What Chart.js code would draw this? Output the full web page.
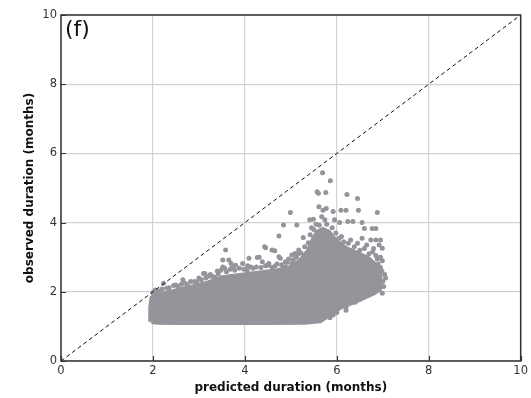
<!DOCTYPE html>
<html>
<head>
<meta charset="utf-8">
<script src="https://cdn.jsdelivr.net/npm/chart.js@4"></script>
<style>
html,body{margin:0;padding:0;background:#fff;}
#wrap{width:531px;height:398px;position:relative;}
</style>
</head>
<body>
<div id="wrap"><canvas id="c"></canvas></div>
<script>
// ---- data ----
const xTicks = [0, 2, 4, 6, 8, 10];
const yTicks = [0, 2, 4, 6, 8, 10];
const diagonal = [[0, 0], [10, 10]];

// outline of the solid, overlapping mass of points
const denseCore = [
  [1.93,1.15],[1.92,1.55],[1.95,1.85],[2.05,1.95],[2.3,2.0],[2.6,2.1],[2.9,2.2],
  [3.2,2.3],[3.5,2.45],[3.8,2.5],[4.1,2.55],[4.4,2.6],[4.7,2.65],[5.0,2.75],
  [5.2,2.95],[5.35,3.2],[5.45,3.5],[5.55,3.75],[5.7,3.85],[5.85,3.75],[6.0,3.5],
  [6.2,3.3],[6.45,3.15],[6.7,3.0],[6.9,2.75],[6.97,2.45],[6.97,2.1],[6.85,1.95],
  [6.6,1.8],[6.35,1.65],[6.1,1.52],[5.95,1.4],[5.8,1.25],[5.65,1.12],[5.3,1.08],
  [4.5,1.07],[3.5,1.07],[2.5,1.07],[2.1,1.08],[1.97,1.1]
];

// individual points around the edges of the cloud
const highPoints = [
  [5.69,5.44],[5.86,5.21],[5.57,4.89],[5.60,4.85],[5.76,4.87],[6.22,4.81],[6.45,4.70],
  [4.99,4.29],[5.61,4.46],[5.70,4.36],[5.77,4.41],[5.92,4.32],[6.09,4.36],[6.20,4.36],
  [6.47,4.36],[6.88,4.29],[5.13,3.93],[4.84,3.93],[5.41,4.08],[5.49,4.10],[5.67,4.17],
  [5.74,4.08],[5.95,4.08],[6.06,4.00],[6.24,4.03],[6.35,4.03],[6.55,4.00],[5.27,3.57],
  [4.74,3.61],[6.60,3.83],[6.77,3.83],[6.85,3.83],[6.74,3.50],[6.85,3.50],[6.95,3.50],
  [6.92,3.35],[6.99,3.26],[5.45,3.85],[5.55,3.95],[5.60,3.70],[5.50,3.55]
];
const rightPoints = [
  [6.99,1.96],[6.77,2.00],[7.06,2.40],[7.04,2.50],[6.95,3.00],[6.99,2.90],[6.85,2.63],
  [6.95,2.57],[6.05,3.55],[6.15,3.45],[6.30,3.50],[6.45,3.40],[6.55,3.55],[6.65,3.35],
  [6.80,3.25],[6.50,3.20],[6.70,3.10],[6.85,3.05],[6.90,2.80],[6.75,2.85],[6.95,2.70],
  [7.00,2.30],[7.02,2.15],[6.92,2.05],[6.60,1.85],[6.40,1.70],[6.20,1.55],[6.00,1.40],
  [5.92,1.33],[5.85,1.25],[6.20,1.47],[6.50,1.78]
];
const upperEdgePoints = [
  [3.58,3.21],[3.65,2.92],[3.70,2.82],[3.52,2.72],[3.56,2.68],[3.13,2.53],[3.30,2.44],
  [2.23,2.25],[4.45,3.27],[4.59,3.21],[4.65,3.19],[4.43,3.30],[4.09,2.97],[4.27,2.99],
  [3.95,2.82],[4.13,2.72],[4.38,2.87],[4.52,2.77],[4.66,2.75],[4.77,2.97],[4.95,2.95],
  [5.09,3.11],[5.17,3.21],[4.88,2.72],[5.02,2.82],[4.31,3.00],[4.74,3.01],[4.88,2.87],
  [5.02,3.06],[5.15,3.09],[4.52,2.82],[3.80,2.77],[3.73,2.72],[3.52,2.92],[3.10,2.53],
  [2.05,2.05],[4.06,2.75],[2.30,2.10],[2.50,2.20],[2.70,2.25],[2.90,2.30],[2.65,2.35],
  [3.00,2.40],[3.25,2.50],[3.40,2.60]
];
const raggedTopPoints = [
  [2.00,1.98],[2.12,2.02],[2.20,2.08],[2.35,2.12],[2.45,2.18],[2.55,2.15],[2.62,2.22],
  [2.75,2.20],[2.82,2.30],[2.95,2.28],[3.05,2.35],[3.15,2.40],[3.22,2.45],[3.35,2.42],
  [3.42,2.52],[3.48,2.62],[3.60,2.58],[3.68,2.65],[3.78,2.62],[3.88,2.68],[3.98,2.65],
  [4.05,2.62],[4.18,2.68],[4.25,2.72],[4.35,2.70],[4.45,2.75],[4.60,2.70],[4.70,2.80],
  [4.80,2.78],[4.92,2.85],[5.05,2.92],[5.12,3.00],[5.22,3.12],[5.30,3.30],[5.38,3.42],
  [5.42,3.65],[5.50,3.80],[5.62,3.92],[5.78,3.95],[5.90,3.85],[5.98,3.70],[6.10,3.60],
  [6.25,3.40],[6.38,3.30],[6.60,3.25],[6.78,3.15],[6.88,2.95],[6.98,2.60]
];

const toXY = arr => arr.map(p => ({x: p[0], y: p[1]}));
const gray = 'rgb(148,149,154)';

const frameAndTicks = {
  id: 'frameAndTicks',
  afterDatasetsDraw(chart) {
    const {ctx, chartArea: a, scales} = chart;
    ctx.save();
    ctx.strokeStyle = '#333';
    ctx.lineWidth = 1.2;
    ctx.beginPath();
    xTicks.forEach(v => {
      const px = Math.round(scales.x.getPixelForValue(v)) + 0.5;
      ctx.moveTo(px, a.bottom); ctx.lineTo(px, a.bottom - 5);
    });
    yTicks.forEach(v => {
      const py = Math.round(scales.y.getPixelForValue(v)) + 0.5;
      ctx.moveTo(a.left, py); ctx.lineTo(a.left + 5, py);
    });
    ctx.stroke();
    ctx.lineWidth = 1.5;
    ctx.strokeRect(a.left, a.top, a.right - a.left, a.bottom - a.top);
    ctx.fillStyle = '#111';
    ctx.font = '22px "DejaVu Sans"';
    ctx.textBaseline = 'top';
    ctx.textAlign = 'left';
    ctx.fillText('(f)', a.left + 4, a.top + 4);
    ctx.restore();
  }
};

const dotSet = pts => ({ data: toXY(pts), backgroundColor: gray, borderWidth: 0, pointRadius: 2.5, order: 1 });

new Chart(document.getElementById('c'), {
  type: 'scatter',
  data: {
    datasets: [
      {
        type: 'line', data: toXY(diagonal), borderColor: '#111', borderWidth: 1,
        borderDash: [4, 3], pointRadius: 0, fill: false, order: 0
      },
      {
        type: 'line', data: toXY(denseCore), borderColor: gray, backgroundColor: gray,
        borderWidth: 2, borderJoinStyle: 'round', pointRadius: 0, fill: 'shape',
        tension: 0, order: 2
      },
      dotSet(highPoints),
      dotSet(rightPoints),
      dotSet(upperEdgePoints),
      dotSet(raggedTopPoints)
    ]
  },
  options: {
    responsive: true,
    maintainAspectRatio: false,
    animation: false,
    layout: { padding: { top: 15, right: 4, left: 0, bottom: 0 } },
    plugins: { legend: { display: false }, tooltip: { enabled: false } },
    scales: {
      x: {
        type: 'linear', min: 0, max: 10,
        afterFit(s) { s.height = 37; },
        afterBuildTicks(s) { s.ticks = xTicks.map(v => ({value: v})); },
        ticks: { padding: 3, color: '#333', font: { family: 'DejaVu Sans', size: 11.5 } },
        grid: { color: '#d2d2d2', lineWidth: 1.2, drawTicks: false },
        border: { display: false },
        title: {
          display: true, text: 'predicted duration (months)', color: '#111',
          font: { family: 'DejaVu Sans', size: 12, weight: 'bold' },
          padding: { top: 0, bottom: 3 }
        }
      },
      y: {
        type: 'linear', min: 0, max: 10,
        afterFit(s) { s.width = 61; },
        afterBuildTicks(s) { s.ticks = yTicks.map(v => ({value: v})); },
        ticks: { padding: 4, color: '#333', font: { family: 'DejaVu Sans', size: 11.5 } },
        grid: { color: '#d2d2d2', lineWidth: 1.2, drawTicks: false },
        border: { display: false },
        title: {
          display: true, text: 'observed duration (months)', color: '#111',
          font: { family: 'DejaVu Sans', size: 12, weight: 'bold' },
          padding: { top: 23, bottom: 0 }
        }
      }
    }
  },
  plugins: [frameAndTicks]
});
</script>
</body>
</html>
